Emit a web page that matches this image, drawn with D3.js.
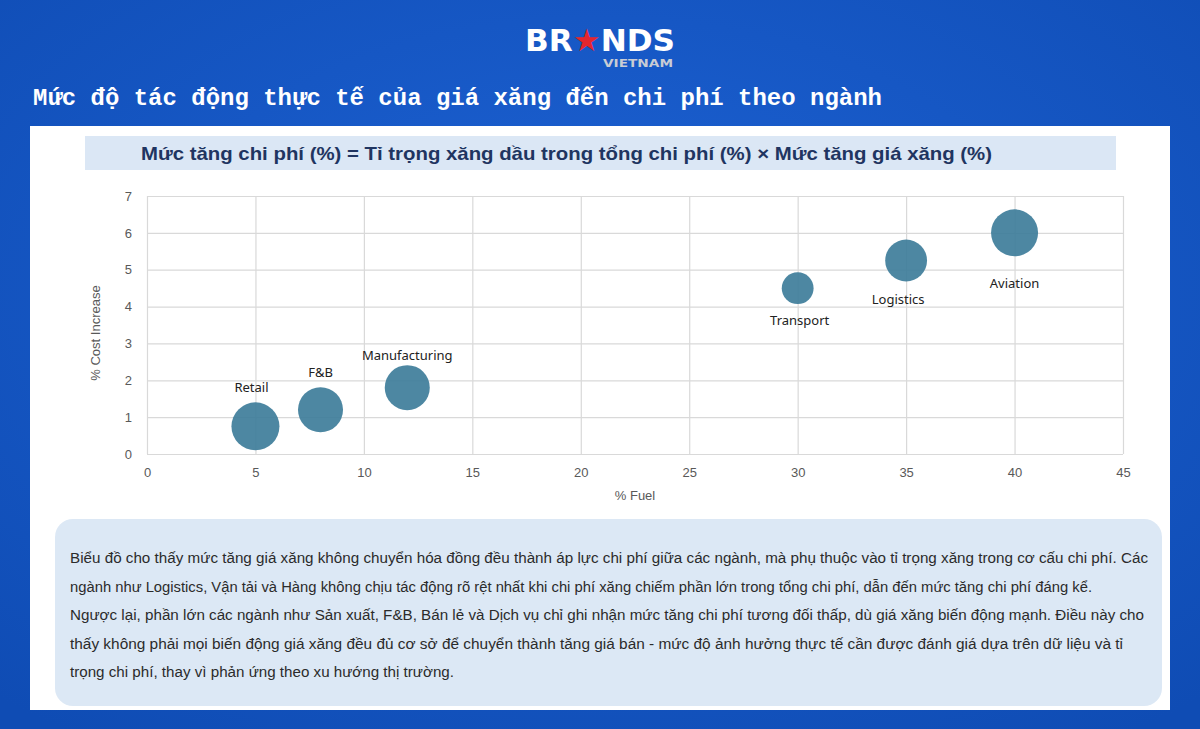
<!DOCTYPE html>
<html>
<head>
<meta charset="utf-8">
<script src="https://cdn.jsdelivr.net/npm/d3@7"></script>
<style>
  body { margin: 0; background: #1757c6; }
</style>
</head>
<body>
<div id="d3-container"></div>
<script>
const sectors = ["Retail", "F&B", "Manufacturing", "Transport", "Logistics", "Aviation"];
const fuelShare = [5, 8, 12, 30, 35, 40];
const costIncrease = [0.75, 1.2, 1.8, 4.5, 5.25, 6];
const bubbleSize = [12.5, 11, 11, 5.5, 9.5, 12];
const xTicks = [0, 5, 10, 15, 20, 25, 30, 35, 40, 45];
const yTicks = [0, 1, 2, 3, 4, 5, 6, 7];

const pageTitle = "Mức độ tác động thực tế của giá xăng đến chi phí theo ngành";
const formula = "Mức tăng chi phí (%) = Tỉ trọng xăng dầu trong tổng chi phí (%) × Mức tăng giá xăng (%)";
const noteLines = [
    "Biểu đồ cho thấy mức tăng giá xăng không chuyển hóa đồng đều thành áp lực chi phí giữa các ngành, mà phụ thuộc vào tỉ trọng xăng trong cơ cấu chi phí. Các",
    "ngành như Logistics, Vận tải và Hàng không chịu tác động rõ rệt nhất khi chi phí xăng chiếm phần lớn trong tổng chi phí, dẫn đến mức tăng chi phí đáng kể.",
    "Ngược lại, phần lớn các ngành như Sản xuất, F&B, Bán lẻ và Dịch vụ chỉ ghi nhận mức tăng chi phí tương đối thấp, dù giá xăng biến động mạnh. Điều này cho",
    "thấy không phải mọi biến động giá xăng đều đủ cơ sở để chuyển thành tăng giá bán - mức độ ảnh hưởng thực tế cần được đánh giá dựa trên dữ liệu và tỉ",
    "trọng chi phí, thay vì phản ứng theo xu hướng thị trường."
];
const noteWidths = [1078, 1022, 1074, 1053, 384];

const data = sectors.map((s, i) => ({
    name: s, x: fuelShare[i], y: costIncrease[i], size: bubbleSize[i]
}));

// label placement, tuned by eye
const labelShift = {
    "Retail": [-4, -39], "F&B": [0, -38], "Manufacturing": [0, -33],
    "Transport": [2, 32], "Logistics": [-8, 38], "Aviation": [0, 50]
};

const width = 1200;
const height = 729;
const margin = {top: 196, bottom: 275, left: 147, right: 77};

const svg = d3.select('#d3-container')
    .append('svg')
    .attr('width', width)
    .attr('height', height)
    .attr("viewBox", [0, 0, width, height]);

// background
const defs = svg.append("defs");
const bg = defs.append("radialGradient").attr("id", "bg").attr("cx", "50%").attr("cy", "40%").attr("r", "75%");
bg.append("stop").attr("offset", "0%").attr("stop-color", "#1d62d4");
bg.append("stop").attr("offset", "100%").attr("stop-color", "#0f4cb4");
svg.append("rect").attr("width", width).attr("height", height).attr("fill", "url(#bg)");

// logo
const logo = svg.append("text")
    .attr("x", 600).attr("y", 51)
    .attr("text-anchor", "middle")
    .attr("font-family", "DejaVu Sans")
    .attr("font-weight", "bold")
    .attr("font-size", 31)
    .attr("fill", "#fff")
    .attr("textLength", 150)
    .attr("lengthAdjust", "spacingAndGlyphs");
logo.append("tspan").text("BR");
logo.append("tspan").attr("fill", "#e3262e").text("★");
logo.append("tspan").text("NDS");
svg.append("text")
    .attr("x", 673).attr("y", 67)
    .attr("text-anchor", "end")
    .attr("font-family", "DejaVu Sans")
    .attr("font-weight", "bold")
    .attr("font-size", 11)
    .attr("fill", "#c9ccd4")
    .attr("textLength", 70)
    .attr("lengthAdjust", "spacingAndGlyphs")
    .text("VIETNAM");

svg.append("text")
    .attr("x", 33).attr("y", 105)
    .attr("font-family", "Liberation Mono")
    .attr("font-weight", "bold")
    .attr("font-size", 23)
    .attr("fill", "#fff")
    .attr("textLength", 849)
    .attr("lengthAdjust", "spacingAndGlyphs")
    .text(pageTitle);

// white panel
svg.append("rect").attr("x", 30).attr("y", 126).attr("width", 1140).attr("height", 584).attr("fill", "#fff");

svg.append("rect").attr("x", 85).attr("y", 136).attr("width", 1031).attr("height", 34).attr("fill", "#dbe7f5");
svg.append("text")
    .attr("x", 141).attr("y", 160)
    .attr("font-family", "Liberation Sans Narrow, Liberation Sans")
    .attr("font-weight", "bold")
    .attr("font-size", 19)
    .attr("fill", "#1f3561")
    .attr("textLength", 851)
    .attr("lengthAdjust", "spacingAndGlyphs")
    .text(formula);

const x = d3.scaleLinear()
    .domain([0, 45])
    .range([margin.left, width - margin.right]);

const y = d3.scaleLinear()
    .domain([0, 7])
    .range([height - margin.bottom, margin.top]);

const r = d3.scaleSqrt()
    .domain([0, d3.max(bubbleSize)])
    .range([0, 24]);

function xAxis(g) {
    g.attr("transform", `translate(0,${height - margin.bottom})`)
        .call(d3.axisBottom(x).tickValues(xTicks).tickFormat(d3.format("d"))
            .tickSize(-(height - margin.bottom - margin.top)).tickPadding(14))
        .attr("font-size", '13px')
        .attr("font-family", "Liberation Sans");
    g.select(".domain").remove();
    g.selectAll(".tick line").attr("stroke", "#d9d9d9").attr("stroke-width", 1.2);
    g.selectAll(".tick text").attr("fill", "#595959");
}

function yAxis(g) {
    g.attr("transform", `translate(${margin.left}, 0)`)
        .call(d3.axisLeft(y).tickValues(yTicks).tickFormat(d3.format("d"))
            .tickSize(-(width - margin.left - margin.right)).tickPadding(15))
        .attr("font-size", '13px')
        .attr("font-family", "Liberation Sans");
    g.select(".domain").remove();
    g.selectAll(".tick line").attr("stroke", "#d9d9d9").attr("stroke-width", 1.2);
    g.selectAll(".tick text").attr("fill", "#595959");
}

svg.append("g").call(xAxis);
svg.append("g").call(yAxis);

svg.append("text")
    .attr("x", (margin.left + width - margin.right) / 2)
    .attr("y", 500)
    .attr("text-anchor", "middle")
    .attr("font-family", "Liberation Sans")
    .attr("font-size", 13)
    .attr("fill", "#595959")
    .text("% Fuel");

svg.append("text")
    .attr("transform", `translate(100, ${(margin.top + height - margin.bottom) / 2 + 8}) rotate(-90)`)
    .attr("text-anchor", "middle")
    .attr("font-family", "Liberation Sans")
    .attr("font-size", 13)
    .attr("fill", "#595959")
    .text("% Cost Increase");

svg.append("g")
    .selectAll("circle")
    .data(data)
    .join("circle")
    .attr("cx", d => x(d.x))
    .attr("cy", d => y(d.y))
    .attr("r", d => r(d.size))
    .attr("fill", "#3e7d9a")
    .attr("fill-opacity", 0.92);

svg.append("g")
    .selectAll("text")
    .data(data)
    .join("text")
    .attr("x", d => x(d.x) + labelShift[d.name][0])
    .attr("y", d => y(d.y) + labelShift[d.name][1] + 5)
    .attr("text-anchor", "middle")
    .attr("font-family", "Noto Sans")
    .attr("font-size", 13)
    .attr("fill", "#222")
    .text(d => d.name);

// note box
svg.append("rect")
    .attr("x", 55).attr("y", 519).attr("width", 1107).attr("height", 187)
    .attr("rx", 18)
    .attr("fill", "#dce8f5");

svg.append("g")
    .selectAll("text")
    .data(noteLines)
    .join("text")
    .attr("x", 70)
    .attr("y", (d, i) => 563 + i * 28.5)
    .attr("font-family", "Liberation Sans")
    .attr("font-size", 14)
    .attr("fill", "#2b2b2b")
    .attr("textLength", (d, i) => noteWidths[i])
    .attr("lengthAdjust", "spacingAndGlyphs")
    .text(d => d);

svg.node();
</script>
</body>
</html>
